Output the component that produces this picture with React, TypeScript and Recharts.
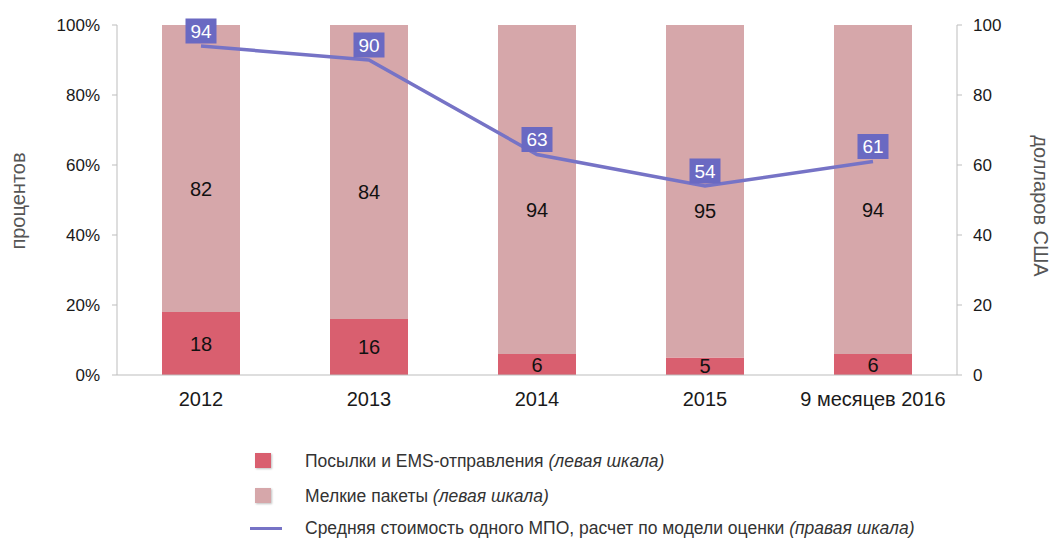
import React from "react";
import { ComposedChart, Bar, Line, XAxis, YAxis, LabelList } from "recharts";

const categories = ["2012", "2013", "2014", "2015", "9 месяцев 2016"];
const parcels = [18, 16, 6, 5, 6];
const smallPackets = [82, 84, 94, 95, 94];
const avgCost = [94, 90, 63, 54, 61];
const leftTicks = [0, 20, 40, 60, 80, 100];
const rightTicks = [0, 20, 40, 60, 80, 100];

const data = categories.map((c, i) => ({
  name: c,
  parcels: parcels[i],
  small: smallPackets[i],
  cost: avgCost[i],
}));

const FONT = "'Liberation Sans', Arial, sans-serif";
const DARK = "#d95f6f";
const LIGHT = "#d6a7aa";
const LINE = "#7673c6";
const BOX = "#6a69c2";

const CostLabel = (props: any) => {
  const { x, y, value } = props;
  const w = 31;
  const h = 25;
  return (
    <g>
      <rect x={x - w / 2} y={y - 15 - h / 2} width={w} height={h} fill={BOX} />
      <text
        x={x}
        y={y - 15}
        textAnchor="middle"
        dominantBaseline="central"
        fill="#fff"
        fontSize={19}
        fontFamily={FONT}
      >
        {value}
      </text>
    </g>
  );
};

// labels of the upper segment sit a bit below the segment middle, as in the source
const SmallLabel = (props: any) => {
  const { x, y, width, height, value } = props;
  return (
    <text
      x={x + width / 2}
      y={y + height / 2 + 20}
      textAnchor="middle"
      dominantBaseline="central"
      fill="#111"
      fontSize={20}
      fontFamily={FONT}
    >
      {value}
    </text>
  );
};

const legendText: React.CSSProperties = { position: "absolute", left: 297, whiteSpace: "nowrap", fontSize: 17.5, color: "#333", lineHeight: "20px" };

export default function App() {
  return (
    <div style={{ position: "relative", width: 1047, height: 532, fontFamily: FONT, background: "#fff" }}>
      <ComposedChart
        width={1047}
        height={410}
        data={data}
        margin={{ top: 17, right: 38, bottom: 3, left: 40 }}
      >
        <XAxis
          dataKey="name"
          tickLine={false}
          axisLine={{ stroke: "#bdbdbd" }}
          tick={{ fill: "#1a1a1a", fontSize: 20, fontFamily: FONT }}
          tickMargin={11}
          height={40}
        />
        <YAxis
          yAxisId="left"
          domain={[0, 100]}
          ticks={leftTicks}
          tickFormatter={(v) => `${v}%`}
          width={69}
          axisLine={{ stroke: "#bdbdbd" }}
          tickLine={{ stroke: "#bdbdbd" }}
          tickSize={5}
          tickMargin={12}
          tick={{ fill: "#1a1a1a", fontSize: 17, fontFamily: FONT }}
        />
        <YAxis
          yAxisId="right"
          orientation="right"
          domain={[0, 100]}
          ticks={rightTicks}
          width={60}
          axisLine={{ stroke: "#bdbdbd" }}
          tickLine={{ stroke: "#bdbdbd" }}
          tickSize={5}
          tickMargin={11}
          tick={{ fill: "#1a1a1a", fontSize: 17, fontFamily: FONT }}
        />
        <Bar yAxisId="left" dataKey="parcels" stackId="a" fill={DARK} barSize={78} isAnimationActive={false}>
          <LabelList dataKey="parcels" position="center" fill="#111" fontSize={20} fontFamily={FONT} />
        </Bar>
        <Bar yAxisId="left" dataKey="small" stackId="a" fill={LIGHT} barSize={78} isAnimationActive={false}>
          <LabelList dataKey="small" content={SmallLabel} />
        </Bar>
        <Line
          yAxisId="right"
          dataKey="cost"
          stroke={LINE}
          strokeWidth={3.5}
          dot={false}
          isAnimationActive={false}
        >
          <LabelList dataKey="cost" content={CostLabel} />
        </Line>
      </ComposedChart>

      <div
        style={{
          position: "absolute",
          left: 10,
          top: 193,
          transform: "translate(-50%, -50%) rotate(-90deg)",
          color: "#555",
          fontSize: 20,
          whiteSpace: "nowrap",
        }}
      >
        процентов
      </div>
      <div
        style={{
          position: "absolute",
          left: 1032,
          top: 198,
          transform: "translate(-50%, -50%) rotate(90deg)",
          color: "#555",
          fontSize: 20,
          whiteSpace: "nowrap",
        }}
      >
        долларов США
      </div>

      <span style={{ position: "absolute", left: 247, top: 445, width: 16, height: 15, background: DARK, boxShadow: "1px 1px 2px rgba(0,0,0,0.25)" }} />
      <div style={{ ...legendText, top: 443 }}>
        Посылки и EMS-отправления <i>(левая шкала)</i>
      </div>
      <span style={{ position: "absolute", left: 247, top: 480, width: 16, height: 15, background: LIGHT, boxShadow: "1px 1px 2px rgba(0,0,0,0.25)" }} />
      <div style={{ ...legendText, top: 478 }}>
        Мелкие пакеты <i>(левая шкала)</i>
      </div>
      <span style={{ position: "absolute", left: 242, top: 519, width: 32, height: 3, background: LINE }} />
      <div style={{ ...legendText, top: 510 }}>
        Средняя стоимость одного МПО, расчет по модели оценки <i>(правая шкала)</i>
      </div>
    </div>
  );
}
